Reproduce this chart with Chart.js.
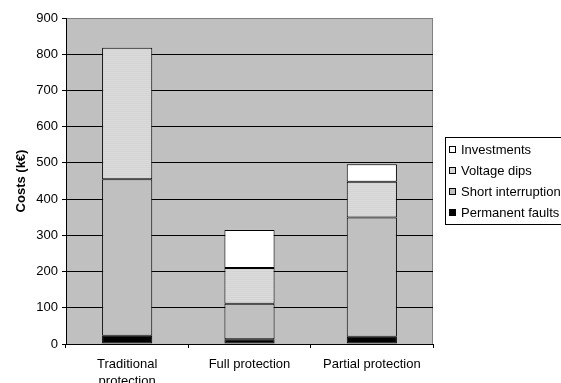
<!DOCTYPE html>
<html>
<head>
<meta charset="utf-8">
<script src="https://cdn.jsdelivr.net/npm/chart.js@4.4.0/dist/chart.umd.min.js"></script>
<style>
body{margin:0;background:#fff}
</style>
</head>
<body>
<canvas id="myChart" width="561" height="383"></canvas>
<script>
// data (k€)
const categories = [["Traditional","protection"], "Full protection", "Partial protection"];
const permanentFaults = [23, 13, 20];
const shortInterruptions = [432, 98, 329];
const voltageDips = [363, 99, 99];
const investments = [0, 105, 48];
const yMax = 900;
const yStep = 100;

Chart.defaults.font.family = "'Liberation Sans', Arial, sans-serif";
Chart.defaults.font.size = 13;
Chart.defaults.color = '#000';

// light grey striped fill for voltage dips
function stripes(){
    let c = document.createElement('canvas');
    c.width = 4; c.height = 2;
    let g = c.getContext('2d');
    g.fillStyle = '#dbdbdb'; g.fillRect(0,0,4,1);
    g.fillStyle = '#d4d4d4'; g.fillRect(0,1,4,1);
    return g.createPattern(c, 'repeat');
}
const dipsFill = stripes();

const plotBg = {
    id: 'plotBg',
    beforeDraw(chart){
        const ctx = chart.ctx, a = chart.chartArea;
        ctx.save();
        ctx.fillStyle = '#c0c0c0';
        ctx.fillRect(a.left, a.top, a.right - a.left, a.bottom - a.top);
        ctx.strokeStyle = '#808080';
        ctx.lineWidth = 1;
        ctx.beginPath();
        ctx.moveTo(a.left, a.top + 0.5);
        ctx.lineTo(a.right - 0.5, a.top + 0.5);
        ctx.lineTo(a.right - 0.5, a.bottom);
        ctx.stroke();
        ctx.restore();
    }
};

// legend box sitting right of the plot, cut by the page edge like the original
const boxLegend = {
    id: 'boxLegend',
    afterDraw(chart){
        const ctx = chart.ctx;
        const x = 445.5, y = 137.5, w = 130, h = 87;
        ctx.save();
        ctx.fillStyle = '#fff';
        ctx.fillRect(x, y, w, h);
        ctx.strokeStyle = '#000';
        ctx.lineWidth = 1;
        ctx.strokeRect(x, y, w, h);
        const sets = chart.data.datasets.slice().reverse();
        ctx.font = "13px 'Liberation Sans', Arial, sans-serif";
        ctx.textBaseline = 'middle';
        for (let i = 0; i < sets.length; i++) {
            let cy = 150 + i * 21;
            ctx.fillStyle = sets[i].legendColor;
            ctx.fillRect(449.5, cy - 3.5, 6, 6);
            ctx.strokeStyle = '#000';
            ctx.strokeRect(449.5, cy - 3.5, 6, 6);
            ctx.fillStyle = '#000';
            ctx.fillText(sets[i].label, 461, cy);
        }
        ctx.restore();
    }
};

const ctx = document.getElementById('myChart');
new Chart(ctx, {
    type: 'bar',
    data: {
        labels: categories,
        datasets: [
            { label: 'Permanent faults', data: permanentFaults, backgroundColor: '#000', legendColor: '#000' },
            { label: 'Short interruptions', data: shortInterruptions, backgroundColor: '#c0c0c0', legendColor: '#c0c0c0' },
            { label: 'Voltage dips', data: voltageDips, backgroundColor: dipsFill, legendColor: '#d8d8d8' },
            { label: 'Investments', data: investments, backgroundColor: '#fff', legendColor: '#fff' }
        ].map(d => Object.assign(d, {
            borderColor: '#000',
            borderWidth: 1,
            borderSkipped: false,
            barPercentage: 0.41,
            categoryPercentage: 1
        }))
    },
    options: {
        responsive: false,
        animation: false,
        layout: { padding: { top: 18, right: 128, left: 0, bottom: 0 } },
        plugins: {
            legend: { display: false },
            tooltip: { enabled: false }
        },
        scales: {
            x: {
                stacked: true,
                afterFit: s => { s.height = 39; },
                grid: { drawOnChartArea: false, drawTicks: true, tickLength: 4, color: '#000', offset: true },
                border: { color: '#000' },
                ticks: { padding: 8, maxRotation: 0, autoSkip: false, font: { size: 13, lineHeight: 1.3 } }
            },
            y: {
                stacked: true,
                min: 0,
                max: yMax,
                afterFit: s => { s.width = 66; },
                grid: {
                    color: c => (c.tick && c.tick.value === yMax) ? '#808080' : '#000',
                    tickLength: 4,
                    tickColor: '#000'
                },
                border: { color: '#000' },
                ticks: { stepSize: yStep, padding: 4 },
                title: { display: true, text: 'Costs (k€)', font: { size: 13, weight: 'bold' }, padding: { top: 14, bottom: 0 } }
            }
        }
    },
    plugins: [plotBg, boxLegend]
});
</script>
</body>
</html>
